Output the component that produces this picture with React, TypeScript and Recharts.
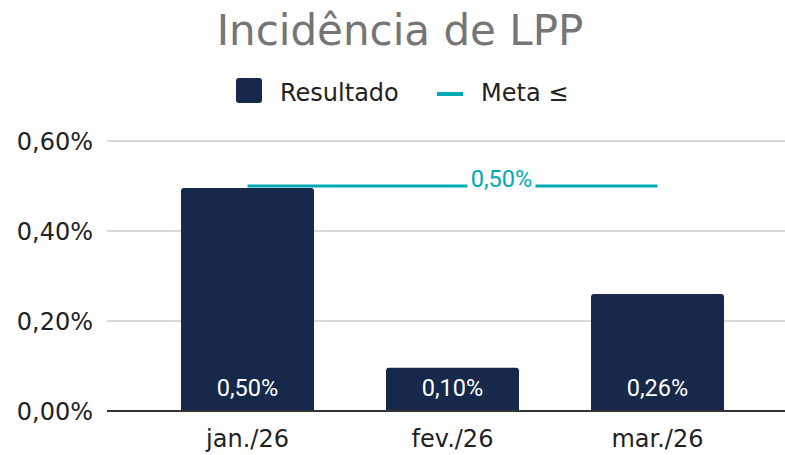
import React from 'react';
import {
  ComposedChart,
  Bar,
  Line,
  XAxis,
  YAxis,
  CartesianGrid,
  LabelList
} from 'recharts';

const months = ['jan./26', 'fev./26', 'mar./26'];
const resultado = [0.4955, 0.096, 0.26];
const meta = [0.5, 0.5, 0.5];
const yTicks = [0, 0.2, 0.4, 0.6];

const NAVY = '#16294a';
const TEAL = '#00a9b5';

const data = months.map((m, i) => ({ month: m, resultado: resultado[i], meta: meta[i] }));

const fmt = (v: number) => v.toFixed(2).replace('.', ',') + '%';

// meta label sits a bit right of the middle point, on a white patch
const MetaLabel = (props: any) => {
  const { x, y, index, value } = props;
  if (index !== 1) return null;
  const cx = x + 49;
  return (
    <g>
      <rect x={cx - 34} y={y - 20} width={68} height={22} fill="#fff" />
      <text
        x={cx}
        y={y + 1}
        textAnchor="middle"
        fill={TEAL}
        fontFamily="Roboto"
        fontSize={23.5}
      >
        {fmt(value)}
      </text>
    </g>
  );
};

const App: React.FC = () => {
  return (
    <div style={{ position: 'absolute', left: 0, top: 0, width: 785, height: 455, background: '#fff' }}>
      <svg width={785} height={130} style={{ position: 'absolute', left: 0, top: 0 }}>
        <text x={400} y={45} textAnchor="middle" fill="#757575" fontFamily="DejaVu Sans" fontSize={42}>
          Incidência de LPP
        </text>
        <rect x={236} y={78} width={26} height={25} rx={3} fill={NAVY} />
        <text x={280} y={101} fill="#222" fontFamily="DejaVu Sans" fontSize={24}>
          Resultado
        </text>
        <rect x={437} y={92} width={26} height={4} fill={TEAL} />
        <text x={481} y={101} fill="#222" fontFamily="DejaVu Sans" fontSize={24}>
          Meta ≤
        </text>
      </svg>
      <div style={{ position: 'absolute', left: 0, top: 0 }}>
        <ComposedChart
          width={785}
          height={455}
          data={data}
          margin={{ top: 141, right: 0, bottom: 0, left: 0 }}
        >
          <CartesianGrid vertical={false} stroke="#cccccc" strokeWidth={1.5} />
          <XAxis
            dataKey="month"
            height={44}
            padding={{ left: 38, right: 25 }}
            tickLine={false}
            tickSize={0}
            tickMargin={19}
            axisLine={{ stroke: '#333', strokeWidth: 2 }}
            tick={{ fill: '#222', fontSize: 24, fontFamily: 'DejaVu Sans' }}
          />
          <YAxis
            width={107}
            domain={[0, 0.6]}
            ticks={yTicks}
            tickFormatter={fmt}
            axisLine={false}
            tickLine={false}
            tickSize={0}
            tickMargin={14}
            tick={{ fill: '#222', fontSize: 24, fontFamily: 'DejaVu Sans' }}
          />
          <Bar dataKey="resultado" fill={NAVY} barSize={133} radius={[3, 3, 0, 0]} isAnimationActive={false}>
            <LabelList
              dataKey="resultado"
              position="insideBottom"
              offset={15}
              formatter={(v: any) => fmt(Number(v))}
              fill="#ffffff"
              fontFamily="Roboto"
              fontSize={23.5}
            />
          </Bar>
          <Line
            dataKey="meta"
            stroke={TEAL}
            strokeWidth={3}
            dot={false}
            activeDot={false}
            isAnimationActive={false}
          >
            <LabelList dataKey="meta" content={MetaLabel} />
          </Line>
        </ComposedChart>
      </div>
    </div>
  );
};

export default App;
